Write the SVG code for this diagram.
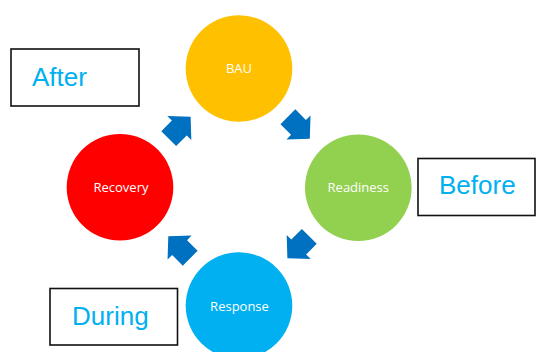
<svg xmlns="http://www.w3.org/2000/svg" width="536" height="352" viewBox="0 0 536 352">
<style>
.lbl{font-family:"Open Sans","Noto Sans",sans-serif;font-size:13px;fill:#fff;text-anchor:middle}
.box{fill:#fff;stroke:#111;stroke-width:1.6}
.phase{font-family:"Liberation Sans",Arial,sans-serif;font-size:26px;fill:#00B0F0}
.arr{fill:#0070C0}
</style>
<defs>
<path id="ba" d="M-15,-10.5 L0,-10.5 L0,-17 L16,0 L0,17 L0,10.5 L-15,10.5 Z"/>
</defs>
<rect width="536" height="352" fill="#fff"/>
<g id="n-after"><rect class="box" x="11" y="49" width="128" height="57"/><text class="phase" x="32" y="85.5">After</text></g>
<g id="n-before"><rect class="box" x="418" y="158.5" width="117" height="57"/><text class="phase" x="439" y="194">Before</text></g>
<g id="n-during"><rect class="box" x="50" y="288.5" width="127.5" height="56.5"/><text class="phase" x="72" y="324.5">During</text></g>
<g id="n-bau"><circle cx="239" cy="68.5" r="53.3" fill="#FFC000"/><text class="lbl" x="239" y="72.5">BAU</text></g>
<g id="n-readiness"><circle cx="358.3" cy="187.7" r="53.3" fill="#92D050"/><text class="lbl" x="358.3" y="191.7">Readiness</text></g>
<g id="n-response"><circle cx="239" cy="305.6" r="53.3" fill="#00B0F0"/><text class="lbl" x="239.5" y="311">Response</text></g>
<g id="n-recovery"><circle cx="120" cy="187.3" r="53.3" fill="#FF0000"/><text class="lbl" x="121" y="192">Recovery</text></g>
<g id="connectors">
<use href="#ba" class="arr" transform="translate(179.3,128) rotate(-45)"/>
<use href="#ba" class="arr" transform="translate(298.5,127.4) rotate(45)"/>
<use href="#ba" class="arr" transform="translate(298.7,247) rotate(135)"/>
<use href="#ba" class="arr" transform="translate(179.6,247.6) rotate(-135)"/>
</g>
</svg>
